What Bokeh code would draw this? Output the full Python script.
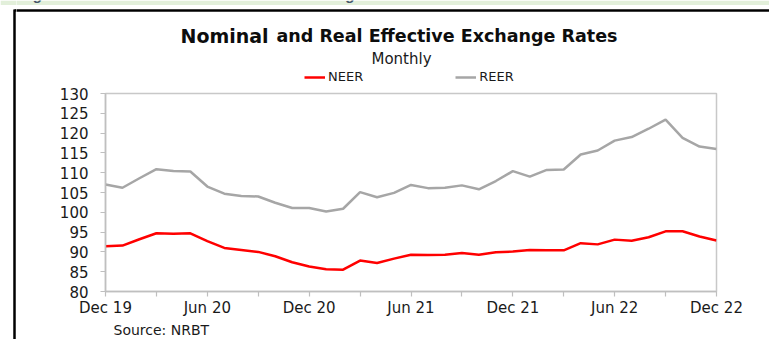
from bokeh.plotting import figure
from bokeh.layouts import column, row
from bokeh.models import Range1d, FixedTicker, Legend, LegendItem, Title
from bokeh.core.properties import value
from bokeh.embed import file_html
from bokeh.resources import INLINE

# ---- data (monthly, Dec 2019 .. Dec 2022) ----
months = ["Dec 19",
          "Jan 20", "Feb 20", "Mar 20", "Apr 20", "May 20", "Jun 20",
          "Jul 20", "Aug 20", "Sep 20", "Oct 20", "Nov 20", "Dec 20",
          "Jan 21", "Feb 21", "Mar 21", "Apr 21", "May 21", "Jun 21",
          "Jul 21", "Aug 21", "Sep 21", "Oct 21", "Nov 21", "Dec 21",
          "Jan 22", "Feb 22", "Mar 22", "Apr 22", "May 22", "Jun 22",
          "Jul 22", "Aug 22", "Sep 22", "Oct 22", "Nov 22", "Dec 22"]

neer = [91.4,
        91.6, 93.2, 94.7, 94.6, 94.7, 92.7,
        91.0, 90.5, 90.0, 88.9, 87.4, 86.3,
        85.6, 85.5, 87.8, 87.2, 88.3, 89.3,
        89.2, 89.3, 89.7, 89.3, 89.9, 90.1,
        90.5, 90.4, 90.4, 92.2, 91.9, 93.1,
        92.8, 93.7, 95.2, 95.2, 93.9, 92.9]

reer = [107.0,
        106.2, 108.6, 110.9, 110.4, 110.3, 106.5,
        104.7, 104.1, 104.0, 102.4, 101.1, 101.1,
        100.2, 100.9, 105.1, 103.8, 104.9, 106.9,
        106.1, 106.2, 106.8, 105.8, 107.9, 110.4,
        109.0, 110.7, 110.8, 114.6, 115.6, 118.1,
        119.0, 121.1, 123.4, 118.8, 116.6, 116.0]

x_tick_months = ["Dec 19", "Mar 20", "Jun 20", "Sep 20", "Dec 20", "Mar 21", "Jun 21",
                 "Sep 21", "Dec 21", "Mar 22", "Jun 22", "Sep 22", "Dec 22"]
x_tick_labels = ["Dec 19", "", "Jun 20", "", "Dec 20", "", "Jun 21",
                 "", "Dec 21", "", "Jun 22", "", "Dec 22"]
y_ticks = [80, 85, 90, 95, 100, 105, 110, 115, 120, 125, 130]

series_names = ["NEER", "REER"]
series_colors = ["#ff0000", "#a6a6a6"]
title_big = "Nominal"
title_rest = "and Real Effective Exchange Rates"
subtitle = "Monthly"
source = "Source: NRBT"
caption = "Figure 20: Nominal and Real Effective Exchange Rates"

x = list(range(len(months)))
tick_pos = [months.index(m) for m in x_tick_months]

W, H = 769, 339
TOP_H = 85          # height of the heading strip
LEFT_W = 16         # width of the left border strip
FL, FR, FT, FB = 105, 716, 93, 291  # chart frame edges on the page
TXT = "#1a1a1a"
GREEN = "#e2efda"

def bare(width, height, x0, x1, y0, y1):
    f = figure(width=width, height=height, output_backend="svg", toolbar_location=None,
               x_range=Range1d(x0, x1), y_range=Range1d(y0, y1),
               x_axis_location=None, y_axis_location=None,
               min_border=0, min_border_left=0, min_border_right=0,
               min_border_top=0, min_border_bottom=0)
    f.grid.visible = False
    f.outline_line_color = None
    f.background_fill_color = "white"
    f.border_fill_color = "white"
    return f

def txt(f, x0, y0, s, size, font="DejaVu Sans", style="normal", color=TXT, align="left"):
    f.text(x=[x0], y=[y0], text=[s], text_font=value(font), text_font_size=size,
           text_font_style=style, text_color=color, text_align=align,
           text_baseline="alphabetic")

# ---- left border strip (page pixel coordinates, y downward) ----
left = bare(LEFT_W, H, 0, LEFT_W, H, 0)
left.quad(left=[0], right=[LEFT_W + 1], top=[0], bottom=[4.5], fill_color=GREEN, line_color=None)
left.segment(x0=[14], y0=[10], x1=[LEFT_W + 2], y1=[10], line_color="black", line_width=2.5)
left.segment(x0=[14], y0=[9], x1=[14], y1=[H + 5], line_color="black", line_width=2.5)

# ---- heading strip ----
top = bare(W - LEFT_W, TOP_H, LEFT_W, W, TOP_H, 0)
top.quad(left=[LEFT_W - 1], right=[W + 1], top=[0], bottom=[4.5], fill_color=GREEN, line_color=None)
txt(top, 20, -6.5, caption, "15px", font="Liberation Sans", style="bold italic", color="#44546a")
top.segment(x0=[LEFT_W - 2], y0=[10], x1=[W + 5], y1=[10], line_color="black", line_width=2.5)
txt(top, 180, 35, title_big, "19px", style="bold", color="#0d0d0d")
txt(top, 276, 35, title_rest, "17.5px", style="bold", color="#0d0d0d")
txt(top, 401, 58, subtitle, "15px", align="center")
leg_r = [top.line(x=[-100, -90], y=[-100, -100], line_color=c, line_width=2.5)
         for c in series_colors]
legend = Legend(items=[LegendItem(label=n, renderers=[r]) for n, r in zip(series_names, leg_r)],
                orientation="horizontal", location=(304 - LEFT_W, TOP_H - 84),
                padding=0, margin=0, spacing=92, glyph_width=21, glyph_height=14,
                label_height=14, label_standoff=3,
                label_text_font="DejaVu Sans", label_text_font_size="13px",
                label_text_color=TXT, border_line_color=None, background_fill_alpha=0)
top.add_layout(legend)

# ---- chart ----
p = figure(width=W - LEFT_W, height=H - TOP_H, output_backend="svg", toolbar_location=None,
           x_range=Range1d(0, len(months) - 1), y_range=Range1d(y_ticks[0], y_ticks[-1]),
           min_border_left=FL - LEFT_W, min_border_right=W - FR,
           min_border_top=FT - TOP_H, min_border_bottom=H - FB)
p.background_fill_color = "white"
p.border_fill_color = "white"
p.xgrid.visible = False
p.ygrid.visible = False
p.outline_line_color = "#c8c8c8"
p.outline_line_width = 1.5

axcol = "#bfbfbf"
for ax in (p.xaxis[0], p.yaxis[0]):
    ax.axis_line_color = axcol
    ax.axis_line_width = 1.5
    ax.major_tick_line_color = axcol
    ax.major_tick_line_width = 1.2
    ax.major_tick_in = 0
    ax.major_tick_out = 5
    ax.minor_tick_line_color = None
    ax.major_label_text_font = "DejaVu Sans"
    ax.major_label_text_font_size = "15px"
    ax.major_label_text_color = TXT

p.xaxis.ticker = FixedTicker(ticks=tick_pos)
p.xaxis.major_label_overrides = {pos: lab for pos, lab in zip(tick_pos, x_tick_labels)}
p.xaxis.major_label_standoff = 2
p.yaxis.ticker = FixedTicker(ticks=y_ticks)
p.yaxis.major_label_standoff = 12

p.line(x, reer, line_color=series_colors[1], line_width=2.5)
p.line(x, neer, line_color=series_colors[0], line_width=2.5)

p.add_layout(Title(text=source, align="left", offset=8, standoff=0,
                   text_font="DejaVu Sans", text_font_size="14px",
                   text_font_style="normal", text_color=TXT), "below")

layout = row(left, column(top, row(p, spacing=0), spacing=0), spacing=0)
open("out.html", "w").write(file_html(layout, INLINE))
